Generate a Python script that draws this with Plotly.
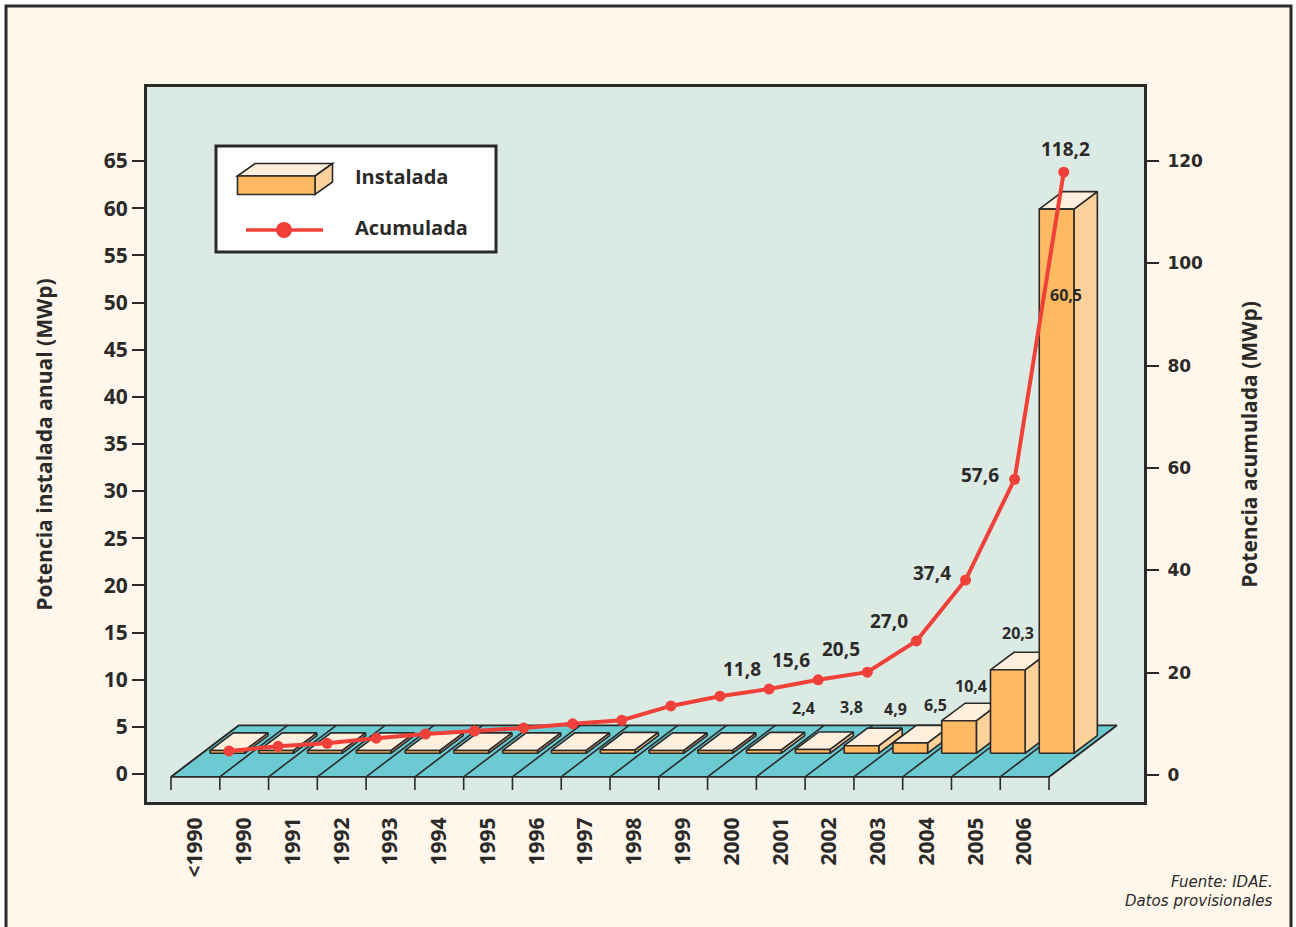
import plotly.graph_objects as go

# ---------- data ----------
categories = ["<1990", "1990", "1991", "1992", "1993", "1994", "1995", "1996", "1997",
              "1998", "1999", "2000", "2001", "2002", "2003", "2004", "2005", "2006"]
# bar tops as drawn against the left axis (bars stand on the raised floor)
instalada_top = [2.5, 2.5, 2.5, 2.5, 2.5, 2.5, 2.5, 2.5, 2.55, 2.5, 2.5, 2.55, 2.6, 3.0, 3.3, 5.65, 11.05, 59.9]
# line as drawn against the right axis
acumulada = [4.7, 5.6, 6.2, 7.2, 8.0, 8.6, 9.2, 10.0, 10.7, 13.5, 15.4, 16.8, 18.6, 20.1, 26.2, 38.1, 57.8, 117.8]
instalada_labels = ["2,4", "3,8", "4,9", "6,5", "10,4", "20,3", "60,5"]
acumulada_labels = ["11,8", "15,6", "20,5", "27,0", "37,4", "57,6", "118,2"]
left_ticks = [0, 5, 10, 15, 20, 25, 30, 35, 40, 45, 50, 55, 60, 65]
right_ticks = [0, 20, 40, 60, 80, 100, 120]

# ---------- style / geometry ----------
W, H = 1296, 927
PL, PR, PT, PB = 147, 1144, 87, 802      # plot area in page pixels
INK = "#2B2A29"
PAGE = "#FFF7EB"
PLOT = "#DBEBE4"
FLOOR = "#6CCAD2"
FRONT, TOP, SIDE = "#FFB961", "#FFEFDC", "#FDD29A"
RED = "#F0403A"
BOLD = "Open Sans"

X0, XK = 171, 48.78       # x = 0 at px 171
Y0, YK = 774, 9.43        # left axis
R0, RK = 775, 5.117       # right axis
LX0, LXK = 229, 49.1      # line category spacing

FLOOR_FRONT, FLOOR_BACK, FLOOR_DX = -0.3, 5.16, 1.39
BAR_BASE, BAR_LEFT, BAR_W, BAR_DX, BAR_DY = 2.2, 0.8, 0.71, 0.48, 1.86
TICK_END = -1.7


def poly(xs, ys, fill):
    return go.Scatter(x=xs, y=ys, mode="lines", fill="toself", fillcolor=fill,
                      line=dict(color=INK, width=1.6), hoverinfo="skip", showlegend=False)


fig = go.Figure()
n = len(categories)

# floor
fig.add_trace(poly([0, n, n + FLOOR_DX, FLOOR_DX, 0],
                   [FLOOR_FRONT, FLOOR_FRONT, FLOOR_BACK, FLOOR_BACK, FLOOR_FRONT], FLOOR))
dx, dy = [], []
for i in range(n + 1):
    dx += [i, i + FLOOR_DX, None, i, i, None]
    dy += [FLOOR_FRONT, FLOOR_BACK, None, FLOOR_FRONT, TICK_END, None]
fig.add_trace(go.Scatter(x=dx, y=dy, mode="lines", line=dict(color=INK, width=1.6),
                         hoverinfo="skip", showlegend=False))

# pseudo-3D bars
for i, t in enumerate(instalada_top):
    a, b = i + BAR_LEFT, i + BAR_LEFT + BAR_W
    fig.add_trace(poly([b, b + BAR_DX, b + BAR_DX, b, b],
                       [BAR_BASE, BAR_BASE + BAR_DY, t + BAR_DY, t, BAR_BASE], SIDE))
    fig.add_trace(poly([a, b, b + BAR_DX, a + BAR_DX, a],
                       [t, t, t + BAR_DY, t + BAR_DY, t], TOP))
    fig.add_trace(poly([a, b, b, a, a], [BAR_BASE, BAR_BASE, t, t, BAR_BASE], FRONT))

# cumulative line
fig.add_trace(go.Scatter(x=list(range(n)), y=acumulada, xaxis="x2", yaxis="y2", mode="lines+markers",
                         line=dict(color=RED, width=4), marker=dict(color=RED, size=11),
                         name="Acumulada", showlegend=False))

# value labels
ann = []
bar_off = [(40, -42), (39, -42), (34, -37), (25, -38), (12, -35), (10, -37), (9, 86)]
for k, txt in enumerate(instalada_labels):
    i = 11 + k
    ann.append(dict(x=i + BAR_LEFT + BAR_W / 2, y=instalada_top[i], xref="x", yref="y", text=txt,
                    xshift=bar_off[k][0], yshift=-bar_off[k][1], showarrow=False,
                    font=dict(family=BOLD, size=16, color=INK, weight="bold")))
line_off = [(-27, -20), (-27, -20), (-26, -23), (-27, -20), (-34, -7), (-35, -4), (2, -23)]
for k, txt in enumerate(acumulada_labels):
    i = 11 + k
    ann.append(dict(x=i, y=acumulada[i], xref="x2", yref="y2", text=txt,
                    xshift=line_off[k][0], yshift=-line_off[k][1], showarrow=False,
                    font=dict(family=BOLD, size=19, color=INK, weight="bold")))


def px(x):
    return (x - PL) / (PR - PL)


def py(y):
    return (PB - y) / (PB - PT)


def page_text(x, y, txt, size, anchor="left", family=BOLD, weight="bold", style="normal"):
    return dict(x=px(x), y=py(y), xref="paper", yref="paper", text=txt, showarrow=False,
                xanchor=anchor, yanchor="middle",
                font=dict(family=family, size=size, color=INK, weight=weight, style=style))


ann += [page_text(353, 176, "Instalada", 20), page_text(353, 227, "Acumulada", 20),
        page_text(1275, 882, "Fuente: IDAE.", 15, "right", "DejaVu Sans", "normal", "italic"),
        page_text(1275, 901, "Datos provisionales", 15, "right", "DejaVu Sans", "normal", "italic")]


def rect(x0, y0, x1, y1, fill, line=INK, width=3):
    return dict(type="rect", xref="paper", yref="paper", x0=px(x0), x1=px(x1), y0=py(y0), y1=py(y1),
                fillcolor=fill, line=dict(color=line, width=width))


def pgon(pts, fill):
    d = "M " + " L ".join(f"{px(x):.5f},{py(y):.5f}" for x, y in pts) + " Z"
    return dict(type="path", xref="paper", yref="paper", path=d, fillcolor=fill, line=dict(color=INK, width=1.6))


shapes = []
# page edge outside the frame
for r in [(0, 0, 5, H), (0, 0, W, 5), (1292, 0, W, H)]:
    shapes.append(rect(*r, "#FFFFFF", "#FFFFFF", 0))
shapes.append(dict(type="rect", xref="paper", yref="paper", x0=px(6), x1=px(1291), y0=py(6), y1=py(H + 20),
                   line=dict(color=INK, width=3)))
# legend box
shapes.append(rect(216, 146, 496, 252, "#FFFFFF"))
shapes += [pgon([(237.5, 176), (255, 163.5), (332.5, 163.5), (315, 176)], TOP),
           pgon([(315, 176), (332.5, 163.5), (332.5, 182), (315, 194.5)], SIDE),
           pgon([(237.5, 176), (315, 176), (315, 194.5), (237.5, 194.5)], FRONT)]
shapes.append(dict(type="line", xref="paper", yref="paper", x0=px(246), x1=px(323), y0=py(230), y1=py(230),
                   line=dict(color=RED, width=3.5)))
shapes.append(dict(type="circle", xref="paper", yref="paper", x0=px(276), x1=px(292), y0=py(222), y1=py(238),
                   fillcolor=RED, line=dict(color=RED, width=0)))

frame = dict(showline=True, linecolor=INK, linewidth=3, showgrid=False, zeroline=False)
fig.update_layout(
    width=W, height=H, autosize=False,
    margin=dict(l=PL, r=W - PR, t=PT, b=H - PB, pad=0),
    paper_bgcolor=PAGE, plot_bgcolor=PLOT, showlegend=False, hovermode=False,
    annotations=ann, shapes=shapes,
    xaxis=dict(**frame, mirror=True, range=[(PL - X0) / XK, (PR - X0) / XK],
               tickmode="array", tickvals=[i + 0.5 for i in range(n)], ticktext=categories,
               ticks="", tickangle=-90, ticklabelstandoff=4,
               tickfont=dict(family=BOLD, size=21, color=INK, weight="bold")),
    xaxis2=dict(overlaying="x", anchor="y", visible=False,
                range=[(PL - LX0) / LXK, (PR - LX0) / LXK]),
    yaxis=dict(**frame, mirror=True, range=[(Y0 - PB) / YK, (Y0 - PT) / YK],
               tickmode="array", tickvals=left_ticks, ticks="outside", ticklen=12, tickwidth=2, tickcolor=INK,
               tickfont=dict(family=BOLD, size=21, color=INK, weight="bold"),
               title=dict(text="Potencia instalada anual (MWp)", standoff=46,
                          font=dict(family=BOLD, size=21, color=INK, weight="bold"))),
    yaxis2=dict(overlaying="y", anchor="x", side="right", range=[(R0 - PB) / RK, (R0 - PT) / RK],
                showline=True, linecolor=INK, linewidth=3, showgrid=False, zeroline=False,
                tickmode="array", tickvals=right_ticks, ticks="outside", ticklen=12, tickwidth=2, tickcolor=INK,
                ticklabelstandoff=5,
                tickfont=dict(family="DejaVu Sans", size=17, color=INK, weight="bold"),
                title=dict(text="Potencia acumulada (MWp)", standoff=41,
                           font=dict(family=BOLD, size=21, color=INK, weight="bold"))),
)

fig.write_html("out.html", config={"displayModeBar": False},
               post_script="document.body.style.margin='0';document.body.style.overflow='hidden';")
